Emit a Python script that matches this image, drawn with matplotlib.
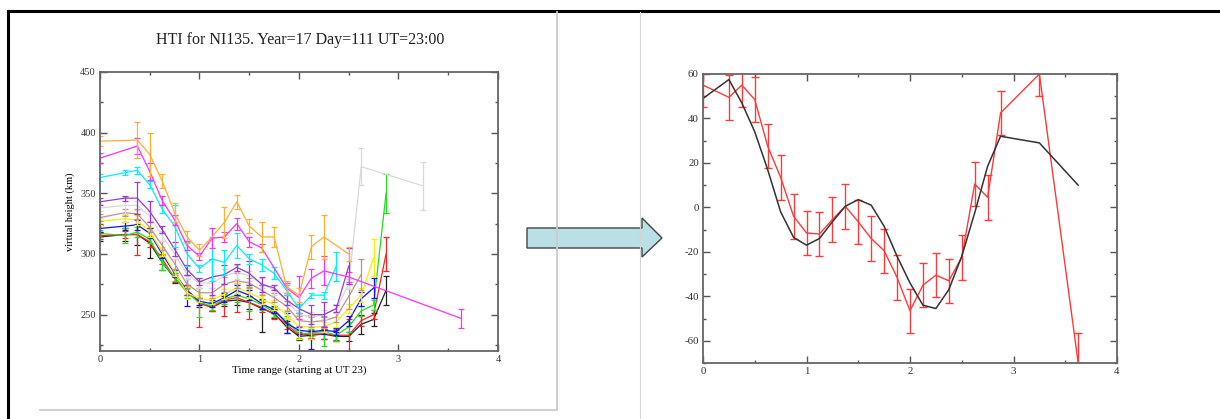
import matplotlib
matplotlib.use("Agg")
import matplotlib.pyplot as plt
from matplotlib.lines import Line2D
from matplotlib.patches import Polygon
from matplotlib.ticker import MultipleLocator

# ================= DATA =================

# time points (hours from UT 23), last two only used by a few series
times = [0, 0.25, 0.375, 0.5, 0.625, 0.75, 0.875, 1.0, 1.125, 1.25, 1.375,
         1.5, 1.625, 1.75, 1.875, 2.0, 2.125, 2.25, 2.375, 2.5, 2.625,
         2.75, 2.875, 3.25, 3.625]

N = None

# left chart: virtual height (km) per frequency, with error bars
black_h = [314, 316, 316, 309, 293, 280, 270, 260, 256, 261, 262, 260, 255, 251, 240, 232, 233, 234, 232, 232, 242, 246, 270, N, N]
black_e = [3, 5, 9, 12, 6, 4, 4, 4, 3, 4, 4, 5, 19, 4, 5, 3, 3, 4, 4, 4, 8, 5, 12, N, N]
red_h = [315, 316, 316, 310, 296, 280, 270, 259, 256, 262, 264, 260, 256, 250, 242, 233, 234, 234, 233, 233, 245, 250, 300, N, N]
red_e = [3, 3, 17, 4, 4, 3, 4, 19, 3, 13, 12, 14, 4, 4, 4, 3, 3, 4, 4, 13, 4, 4, 14, N, N]
green_h = [317, 315, 318, 312, 293, 281, 268, 260, 257, 263, 266, 263, 258, 252, 245, 234, 235, 236, 233, 240, 253, 258, 350, N, N]
green_e = [3, 6, 4, 3, 6, 3, 4, 12, 3, 4, 6, 10, 4, 4, 4, 3, 3, 12, 5, 4, 4, 4, 16, N, N]
blue_h = [321, 323, 324, 317, 300, 284, 270, 261, 259, 264, 270, 266, 259, 254, 243, 237, 236, 237, 236, 245, 263, 272, N, N, N]
blue_e = [3, 3, 4, 4, 3, 3, 13, 3, 3, 4, 4, 4, 4, 3, 8, 3, 14, 3, 3, 4, 6, 8, N, N, N]
yellow_h = [327, 329, 328, 318, 302, 285, 268, 263, 262, 267, 272, 268, 263, 258, 250, 240, 240, 240, 244, 255, 266, 297, N, N, N]
yellow_e = [3, 3, 4, 4, 4, 3, 5, 3, 3, 4, 4, 4, 4, 4, 4, 10, 10, 4, 4, 4, 6, 15, N, N, N]
brown_h = [330, 334, 333, 322, 307, 292, 275, 268, 268, 275, 278, 276, 270, 264, 257, 245, 244, 245, 248, 265, 283, N, N, N, N]
brown_e = [3, 3, 4, 4, 4, 4, 4, 4, 4, 6, 6, 4, 4, 4, 4, 4, 4, 4, 4, 10, 13, N, N, N, N]
grey_h = [338, 340, 340, 331, 315, 300, 283, 276, 276, 282, 285, 282, 276, 270, 262, 250, 248, 250, 255, 275, 372, N, N, 356, N]
grey_e = [3, 7, 4, 4, 4, 4, 4, 4, 4, 6, 6, 4, 4, 4, 4, 4, 4, 4, 4, 4, 15, N, N, 20, N]
violet_h = [343, 346, 346, 335, 320, 304, 287, 277, 281, 283, 289, 284, 275, 272, 262, 255, 250, 250, 255, 290, N, N, N, N, N]
violet_e = [3, 2, 13, 9, 3, 6, 4, 3, 15, 8, 3, 10, 6, 2, 4, 4, 8, 10, 3, 15, N, N, N, N, N]
cyan_h = [363, 367, 369, 357, 337, 323, 300, 288, 296, 293, 307, 296, 291, 284, 270, 255, 266, 266, 290, N, N, N, N, N, N]
cyan_e = [3, 2, 3, 3, 3, 17, 10, 3, 18, 10, 10, 4, 5, 5, 4, 4, 2, 3, 12, N, N, N, N, N, N]
magenta_h = [379, N, 389, 368, 344, 328, 307, 298, 313, 314, 325, 310, 305, N, 272, 264, 280, 286, N, 281, N, N, N, N, 247]
magenta_e = [4, N, 7, 7, 4, 4, 4, 3, 8, 4, 5, 4, 3, N, 4, 18, 8, 12, N, 4, N, N, N, N, 8]
orange_h = [393, 393.5, 394, 382, 360, 334, 314, 303, 314, 326, 343, 323, 314, 314, 273, 266, 306, 314, N, 300, N, N, N, N, N]
orange_e = [4, 0, 15, 18, 6, 8, 5, 5, 0, 13, 6, 6, 12, 8, 5, 6, 10, 18, N, 6, N, N, N, N, N]

# right chart: observed (red, with error bars) and fitted (black)
obs_val = [55, 49.5, 55, 48.5, 27.5, 13.5, -4, -11.5, -12, -5.5, 0.5, -6.5, -14, -19.5, -31.5, -46.5, -35, -30.5, -33, -22.5, 10.5, 4.5, 42.5, 60, -70]
obs_err = [10, 10, 10, 10, 10, 10, 10, 10, 10, 10, 10, 10, 10, 10, 10, 10, 10, 10, 10, 10, 10, 10, 10, 10, 13.5]
fit_val = [49, 57.5, 47, 34, 17, -2, -13.5, -17, -14, -6.5, 0.5, 3.5, 1, -8.5, -22, -34, -44, -45.5, -37, -22, -2.5, 18.5, 32, 29, 10]

left_series = [
    (black_h, black_e, "#222222"),
    (red_h, red_e, "#ff2020"),
    (green_h, green_e, "#20e020"),
    (blue_h, blue_e, "#1010ff"),
    (yellow_h, yellow_e, "#f5f000"),
    (brown_h, brown_e, "#c09090"),
    (grey_h, grey_e, "#d8d8d8"),
    (violet_h, violet_e, "#9a3ad8"),
    (cyan_h, cyan_e, "#00f0ff"),
    (magenta_h, magenta_e, "#ff30ff"),
    (orange_h, orange_e, "#ffae30"),
]

W, H = 1220, 419


def fx(x):
    return x / W


def fy(y):
    return 1 - y / H


def grace_axes(ax, xmaj, xmin, ymaj, ymin, fs):
    ax.xaxis.set_major_locator(MultipleLocator(xmaj))
    ax.xaxis.set_minor_locator(MultipleLocator(xmin))
    ax.yaxis.set_major_locator(MultipleLocator(ymaj))
    ax.yaxis.set_minor_locator(MultipleLocator(ymin))
    ax.tick_params(which="both", direction="in", top=True, right=True,
                   colors="#555555", labelcolor="#333333", labelsize=fs, width=1.0)
    ax.tick_params(which="major", length=5, pad=3)
    ax.tick_params(which="minor", length=2.5)
    for s in ax.spines.values():
        s.set_color("#666666")
        s.set_linewidth(1.3)


plt.rcParams['font.family'] = ['Liberation Serif', 'DejaVu Serif']
plt.rcParams['axes.unicode_minus'] = False

fig = plt.figure(figsize=(W / 100, H / 100), dpi=100)

# ---- slide decorations ----
fig.add_artist(Line2D([fx(8), fx(1220)], [fy(11), fy(11)], color="black", lw=2.2, transform=fig.transFigure))
fig.add_artist(Line2D([fx(8), fx(8)], [fy(11), fy(419)], color="black", lw=2.2, transform=fig.transFigure))
fig.add_artist(Line2D([fx(640), fx(640)], [fy(12), fy(419)], color="#d4d4d4", lw=0.8, transform=fig.transFigure))
fig.add_artist(Line2D([fx(557), fx(557)], [fy(12), fy(410)], color="#cccccc", lw=1.3, transform=fig.transFigure))
fig.add_artist(Line2D([fx(40), fx(557)], [fy(410), fy(410)], color="#cccccc", lw=1.3, transform=fig.transFigure))

arrow_px = [(527, 228), (642, 228), (642, 218), (662, 238), (642, 257), (642, 248), (527, 248)]
fig.add_artist(Polygon([(fx(a), fy(b)) for a, b in arrow_px], closed=True,
                       facecolor="#b9e0e4", edgecolor="#444444", lw=1.0, transform=fig.transFigure))

# ---- left chart ----
ax1 = fig.add_axes([fx(100), fy(351), fx(398), 279 / H])
for h, e, c in left_series:
    xs = [t for t, v in zip(times, h) if v is not None]
    ys = [v for v in h if v is not None]
    ax1.plot(xs, ys, color=c, lw=0.9)
    xe = [t for t, v, d in zip(times, h, e) if v is not None and d]
    ye = [v for v, d in zip(h, e) if v is not None and d]
    de = [d for v, d in zip(h, e) if v is not None and d]
    ax1.errorbar(xe, ye, yerr=de, fmt="none", ecolor=c, elinewidth=0.9, capsize=2.5, capthick=0.9)
ax1.set_xlim(0, 4)
ax1.set_ylim(220, 450)
grace_axes(ax1, 1, 0.5, 50, 25, 7.5)
ax1.set_xlabel("Time range (starting at UT 23)", fontsize=7.8, labelpad=1)
ax1.set_ylabel("virtual height (km)", fontsize=7.5, labelpad=4)
fig.text(fx(300), fy(40), "HTI for NI135. Year=17 Day=111 UT=23:00",
         ha="center", va="center", fontsize=11.5, color="#222222")

# ---- right chart ----
ax2 = fig.add_axes([fx(703), fy(363), fx(414), 289 / H])
ax2.plot(times, obs_val, color="#ff3a3a", lw=1.0)
ax2.errorbar(times, obs_val, yerr=obs_err, fmt="none", ecolor="#ff3a3a",
             elinewidth=1.0, capsize=3, capthick=1.0)
ax2.plot(times, fit_val, color="#333333", lw=1.1)
ax2.set_xlim(0, 4)
ax2.set_ylim(-70, 60)
grace_axes(ax2, 1, 0.5, 20, 10, 7.8)

fig.savefig("out.png", dpi=100)
